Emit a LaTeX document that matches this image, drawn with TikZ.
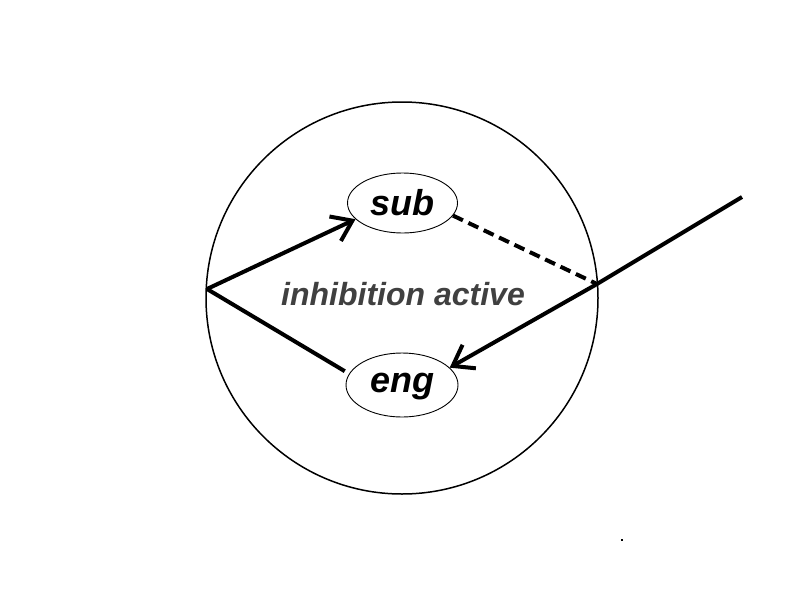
\documentclass[tikz,border=0pt]{standalone}
\usepackage{fontspec}
\setmainfont{Liberation Sans}
\usetikzlibrary{arrows.meta,shapes.geometric}
\begin{document}
\begin{tikzpicture}[x=1pt,y=-1pt,
  cell/.style={draw,circle,line width=1.5pt,minimum size=392pt,inner sep=0pt},
  mol/.style={draw,ellipse,line width=0.9pt,inner sep=0pt,font=\bfseries\itshape\fontsize{36}{40}\selectfont},
  thickline/.style={line width=4pt},
  barb/.style={-{Straight Barb[length=19pt,width=27pt,line width=4pt]}},
  lbl/.style={text=black!75,font=\bfseries\itshape\fontsize{32}{36}\selectfont,inner sep=0pt}]
\useasboundingbox (0,0) rectangle (800,600);
\node[cell] (cell) at (402,298) {};
\node[mol,minimum width=110pt,minimum height=60pt] (sub) at (402.5,203) {sub};
\node[mol,minimum width=112pt,minimum height=64pt,text height=22.5pt,text depth=7.5pt] (eng) at (402,385) {eng};
\node[lbl,anchor=base] (txt) at (403,305) {inhibition active};
\coordinate (L) at (207,289);
\coordinate (J) at (597,284);
\coordinate (T) at (742,197);
\draw[thickline,barb,line join=miter] (L) -- (sub.199);
\draw[thickline,shorten >=5pt] (L) -- (eng.168);
\draw[thickline,dash pattern=on 11pt off 6pt] (sub.-14) -- (J);
\draw[thickline] (T) -- (J);
\draw[thickline,barb] (J) -- (eng.20);
\fill (621,539) rectangle (623,541);
\end{tikzpicture}
\end{document}
